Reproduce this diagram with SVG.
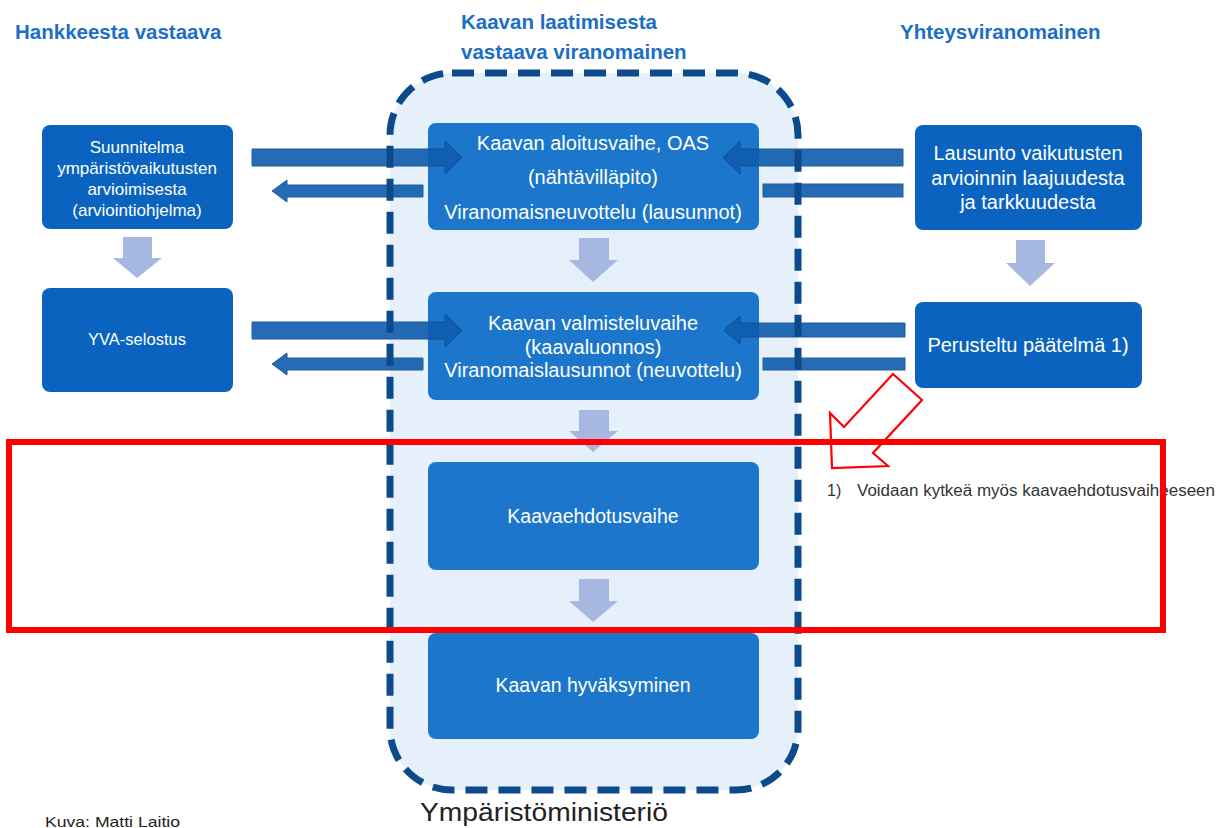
<svg xmlns="http://www.w3.org/2000/svg" width="1224" height="828" viewBox="0 0 1224 828">
<style>
.hdr{font-family:"Liberation Sans",Arial,sans-serif;font-weight:bold;font-size:20.5px;fill:#1c6fc6}
.side{fill:#0a64bf}
.ctr{fill:#1c76cb}
.bt{font-family:"Liberation Sans",Arial,sans-serif;fill:#ffffff;text-anchor:middle}
.harr{fill:#0f5cad;stroke:#0b4c92;stroke-width:1;opacity:0.9}
.varr{fill:#a7b8e0}
.red{fill:none;stroke:#ff0000}
.note{font-family:"Liberation Sans",Arial,sans-serif;fill:#333333}
</style>
<rect width="1224" height="828" fill="#ffffff"/>
<g id="container-fill">
<rect x="390" y="73" width="408" height="717" rx="62" fill="#e5f0fb"/>
</g>
<text class="hdr" x="15" y="39">Hankkeesta vastaava</text>
<text class="hdr" x="461" y="29">Kaavan laatimisesta</text>
<text class="hdr" x="461" y="59">vastaava viranomainen</text>
<text class="hdr" x="900" y="39">Yhteysviranomainen</text>
<g id="node-suunnitelma">
<rect class="side" x="42" y="125" width="191" height="104" rx="8"/>
<text class="bt" font-size="17" x="137" y="153">Suunnitelma</text>
<text class="bt" font-size="17" x="137" y="174">ympäristövaikutusten</text>
<text class="bt" font-size="17" x="137" y="195">arvioimisesta</text>
<text class="bt" font-size="17" x="137" y="216">(arviointiohjelma)</text>
</g>
<g id="node-yva">
<rect class="side" x="42" y="288" width="191" height="104" rx="8"/>
<text class="bt" font-size="16.5" x="137" y="345">YVA-selostus</text>
</g>
<g id="node-aloitus">
<rect class="ctr" x="428" y="123" width="331" height="107" rx="8"/>
<text class="bt" font-size="20" x="593" y="150">Kaavan aloitusvaihe, OAS</text>
<text class="bt" font-size="20" x="593" y="184">(nähtävilläpito)</text>
<text class="bt" font-size="20" x="593" y="219">Viranomaisneuvottelu (lausunnot)</text>
</g>
<g id="node-valmistelu">
<rect class="ctr" x="428" y="292" width="331" height="108" rx="8"/>
<text class="bt" font-size="20" x="593" y="330">Kaavan valmisteluvaihe</text>
<text class="bt" font-size="20" x="593" y="354">(kaavaluonnos)</text>
<text class="bt" font-size="20" x="593" y="377">Viranomaislausunnot (neuvottelu)</text>
</g>
<g id="node-ehdotus">
<rect class="ctr" x="428" y="462" width="331" height="108" rx="8"/>
<text class="bt" font-size="19.5" x="593" y="523">Kaavaehdotusvaihe</text>
</g>
<g id="node-hyvaksyminen">
<rect class="ctr" x="428" y="633" width="331" height="106" rx="8"/>
<text class="bt" font-size="19.5" x="593" y="692">Kaavan hyväksyminen</text>
</g>
<g id="node-lausunto">
<rect class="side" x="915" y="125" width="227" height="105" rx="8"/>
<text class="bt" font-size="20" x="1028" y="160">Lausunto vaikutusten</text>
<text class="bt" font-size="20" x="1028" y="185">arvioinnin laajuudesta</text>
<text class="bt" font-size="20" x="1028" y="209">ja tarkkuudesta</text>
</g>
<g id="node-perusteltu">
<rect class="side" x="915" y="302" width="227" height="86" rx="8"/>
<text class="bt" font-size="20" x="1028" y="352">Perusteltu päätelmä 1)</text>
</g>
<g id="connectors">
<polygon class="varr" points="123,237 152,237 152,258 162,258 137,278 113,258 123,258"/>
<polygon class="varr" points="579,238 609,238 609,260 618,260 593,282 569,260 579,260"/>
<polygon class="varr" points="579,410 609,410 609,431 618,431 593,452 569,431 579,431"/>
<polygon class="varr" points="579,579 609,579 609,601 618,601 593,622 569,601 579,601"/>
<polygon class="varr" points="1016,240 1045,240 1045,263 1055,263 1030,286 1006,263 1016,263"/>
<polygon class="harr" points="252,149 445,149 445,141 462,157.5 445,174 445,166 252,166"/>
<polygon class="harr" points="272,191 287,180 287,185 423,185 423,197 287,197 287,202"/>
<polygon class="harr" points="903,149 740,149 740,141 723,157.5 740,174 740,166 903,166"/>
<rect class="harr" x="763" y="184" width="140" height="13"/>
<polygon class="harr" points="252,322 445,322 445,314 462,330.5 445,347 445,339 252,339"/>
<polygon class="harr" points="272,364 287,353 287,358 423,358 423,370 287,370 287,375"/>
<polygon class="harr" points="905,323 740,323 740,316 724,330 740,344 740,337 905,337"/>
<rect class="harr" x="763" y="358" width="142" height="12"/>
</g>
<g id="container-stroke">
<rect x="390" y="73" width="408" height="717" rx="62" fill="none" stroke="#0d4a8c" stroke-width="7" stroke-dasharray="22 11"/>
</g>
<text x="420" y="821" font-family="Liberation Sans,Arial,sans-serif" font-size="26" textLength="248" lengthAdjust="spacingAndGlyphs" fill="#222222">Ympäristöministeriö</text>
<text x="45" y="827" font-family="Liberation Sans,Arial,sans-serif" font-size="15" textLength="135" lengthAdjust="spacingAndGlyphs" fill="#222222">Kuva: Matti Laitio</text>
<text class="note" x="827" y="496" font-size="16">1)</text>
<text class="note" x="857" y="496" font-size="16" textLength="358" lengthAdjust="spacingAndGlyphs">Voidaan kytkeä myös kaavaehdotusvaiheeseen</text>
<g id="annotations">
<rect class="red" x="9" y="442" width="1154" height="188" stroke-width="6"/>
<polygon class="red" stroke-width="2.2" points="893,374 922,400 873,453 888,466 832,468 830,413 844,427"/>
</g>
</svg>
